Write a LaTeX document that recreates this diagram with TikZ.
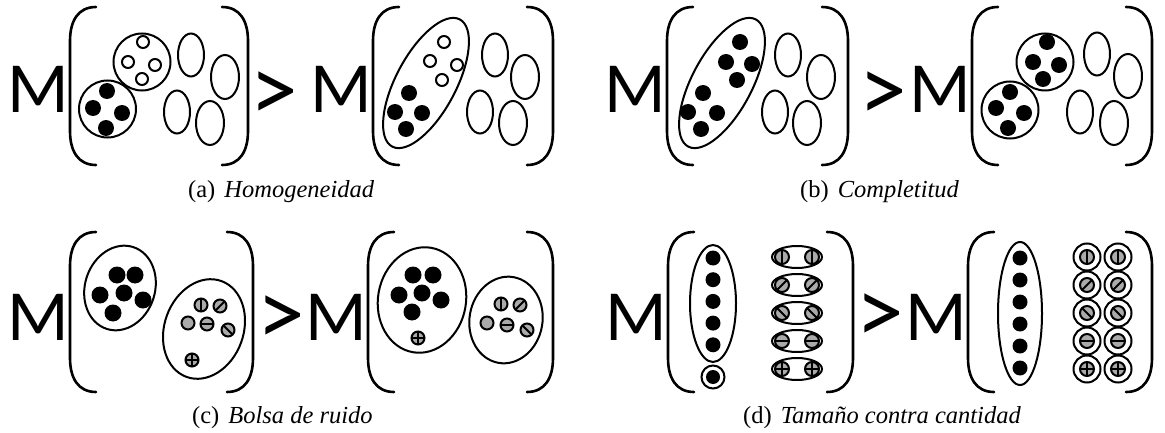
\documentclass[tikz,border=0pt]{standalone}
\usepackage{fontspec}
\newfontfamily\symfont{Carlito}
\newfontfamily\capfont{Liberation Serif}
\definecolor{dotgray}{RGB}{170,170,170}
\tikzset{
  outline/.style={line width=2pt},
  stripe/.style={line width=1.8pt},
  brk/.style={line width=2.6pt, line cap=round},
  bigM/.style={inner sep=0, font=\symfont\fontsize{72}{72}\selectfont},
  gtr/.style={inner sep=0, font=\symfont\fontsize{95}{95}\selectfont},
  captext/.style={inner sep=0, anchor=base west, font=\capfont\fontsize{24.5}{28}\selectfont},
}
% rounded brackets: left x, right x, top y, bottom y (y measured downward)
\newcommand\bracketpair[4]{%
  \draw[brk] (#1+26,-#3) .. controls (#1+8,-#3) and (#1,-#3-14) .. (#1,-#3-34)
     -- (#1,-#4+34) .. controls (#1,-#4+14) and (#1+8,-#4) .. (#1+26,-#4);
  \draw[brk] (#2-26,-#3) .. controls (#2-8,-#3) and (#2,-#3-14) .. (#2,-#3-34)
     -- (#2,-#4+34) .. controls (#2,-#4+14) and (#2-8,-#4) .. (#2-26,-#4);
}
\newcommand\blackdot[3]{\fill (#1,-#2) circle (#3);}
\newcommand\opendot[2]{\draw[outline, fill=white] (#1,-#2) circle (6);}
\newcommand\ringshape[3]{\draw[outline] (#1,-#2) circle (#3);}
\newcommand\plainell[4]{\draw[outline] (#1,-#2) ellipse [x radius=#3, y radius=#4];}
\newcommand\tiltell[5]{\draw[outline, rotate around={#5:(#1,-#2)}] (#1,-#2) ellipse [x radius=#3, y radius=#4];}
% stripe patterns for the grey dots
\newcommand\stripeG[1]{}
\newcommand\stripeV[1]{\draw[stripe] (270:#1) -- (90:#1);}
\newcommand\stripeH[1]{\draw[stripe] (180:#1) -- (0:#1);}
\newcommand\stripeS[1]{\draw[stripe] (225:#1) -- (45:#1);}
\newcommand\stripeB[1]{\draw[stripe] (135:#1) -- (315:#1);}
\newcommand\stripeP[1]{\draw[stripe] (270:#1) -- (90:#1); \draw[stripe] (180:#1) -- (0:#1);}
\newcommand\graydot[4]{%
  \begin{scope}[shift={(#1,-#2)}]
    \fill[dotgray] (0,0) circle (#3);
    \csname stripe#4\endcsname{#3}
    \draw[outline] (0,0) circle (#3);
  \end{scope}}
\begin{document}
\begin{tikzpicture}[x=1pt, y=1pt]
\useasboundingbox (0,0) rectangle (1165,-433);

% ---------- (a) Homogeneidad ----------
\bracketpair{70}{248}{7}{165}
\node[bigM, anchor=base east] (Ma1) at (69,-113) {M};
\ringshape{107.5}{109}{28.5}
\blackdot{107}{91}{8} \blackdot{93}{108}{8} \blackdot{122}{113}{8} \blackdot{106}{128}{8}
\ringshape{142}{62}{28.5}
\opendot{143}{42} \opendot{128}{62} \opendot{155}{65} \opendot{142}{79}
\plainell{191}{55}{13}{21.5} \plainell{225}{77}{14}{22}
\plainell{177}{112}{13}{21.5} \plainell{210}{123}{14}{22}

\node[gtr, anchor=base] (ga) at (274,-122) {>};

\bracketpair{373}{553}{7}{165}
\node[bigM, anchor=base east] (Ma2) at (372,-113) {M};
\tiltell{426}{83}{72}{30}{62}
\opendot{444}{42} \opendot{430}{61} \opendot{457}{65} \opendot{442}{80}
\blackdot{409}{93}{8} \blackdot{395}{112}{8} \blackdot{422}{113}{8} \blackdot{406}{129}{8}
\plainell{495}{55}{13}{21.5} \plainell{525}{77}{14}{22}
\plainell{480}{112}{13}{21.5} \plainell{513}{123}{14}{22}

\node[captext] (capa) at (188,-197) {(a)\hspace{9pt}\itshape Homogeneidad};

% ---------- (b) Completitud ----------
\bracketpair{667}{848}{7}{165}
\node[bigM, anchor=base east] (Mb1) at (666,-113) {M};
\tiltell{722}{83}{72}{30}{62}
\blackdot{740}{42}{8} \blackdot{726}{62}{8} \blackdot{752}{64}{8} \blackdot{737}{80}{8}
\blackdot{703}{93}{8} \blackdot{688}{112}{8} \blackdot{717}{113}{8} \blackdot{701}{129}{8}
\plainell{788}{55}{13}{21.5} \plainell{821}{77}{14}{22}
\plainell{775}{112}{13}{21.5} \plainell{807}{123}{14}{22}

\node[gtr, anchor=base] (gb) at (883,-122) {>};

\bracketpair{972}{1152}{7}{165}
\node[bigM, anchor=base east] (Mb2) at (971,-113) {M};
\ringshape{1010}{110}{28.5}
\blackdot{1010}{92}{8} \blackdot{996}{108}{8} \blackdot{1024}{113}{8} \blackdot{1008}{128}{8}
\ringshape{1045}{62}{28.5}
\blackdot{1047}{42}{8} \blackdot{1033}{62}{8} \blackdot{1059}{65}{8} \blackdot{1043}{79}{8}
\plainell{1097}{54}{13}{21.5} \plainell{1128}{76}{14}{22}
\plainell{1080}{112}{13}{21.5} \plainell{1114}{123}{14}{22}

\node[captext] (capb) at (800,-197) {(b)\hspace{9pt}\itshape Completitud};

% ---------- (c) Bolsa de ruido ----------
\bracketpair{70}{253}{232}{392}
\node[bigM, anchor=base east] (Mc1) at (69,-340) {M};
\tiltell{120}{288}{43}{35}{72}
\blackdot{117}{275}{8.5} \blackdot{135}{275}{8.5} \blackdot{100}{295}{8.5}
\blackdot{124}{293}{8.5} \blackdot{143}{300}{8.5} \blackdot{113}{313}{8.5}
\tiltell{204}{329}{51}{39.5}{70}
\graydot{201}{305}{6.5}{V} \graydot{220}{306}{6.5}{S} \graydot{188}{323}{6.5}{G}
\graydot{207}{324}{6.5}{H} \graydot{228}{330}{6.5}{B} \graydot{192}{360}{6.5}{P}

\node[gtr, anchor=base] (gc) at (281,-345) {>};

\bracketpair{368}{553}{232}{392}
\node[bigM, anchor=base east] (Mc2) at (367,-340) {M};
\tiltell{422}{300}{53}{44}{80}
\blackdot{413}{275}{8.5} \blackdot{433}{275}{8.5} \blackdot{399}{295}{8.5}
\blackdot{422}{293}{8.5} \blackdot{441}{300}{8.5} \blackdot{412}{312}{8.5}
\graydot{418}{338}{6.5}{P}
\tiltell{506}{320}{43.5}{36.5}{80}
\graydot{501}{304}{6.5}{V} \graydot{520}{305}{6.5}{S} \graydot{487}{323}{6.5}{G}
\graydot{507}{325}{6.5}{H} \graydot{527}{330}{6.5}{B}

\node[captext] (capc) at (192,-423) {(c)\hspace{9pt}\itshape Bolsa de ruido};

% ---------- (d) Tamano contra cantidad ----------
\bracketpair{668}{853}{232}{392}
\node[bigM, anchor=base east] (Md1) at (667,-340) {M};
\plainell{713}{303.5}{23}{58.5}
\foreach \yy in {258,279.7,301.4,323.1,344.8} {\blackdot{713}{\yy}{7.5}}
\ringshape{713}{377}{11.5} \blackdot{713}{377}{7}
\foreach \yy/\kind in {257/V,285/S,313/B,341/H,369/P} {
  \plainell{797}{\yy}{25}{11}
  \graydot{782}{\yy}{7}{\kind} \graydot{812}{\yy}{7}{\kind}
}

\node[gtr, anchor=base] (gd) at (880,-343) {>};

\bracketpair{968}{1152}{232}{392}
\node[bigM, anchor=base east] (Md2) at (967,-340) {M};
\plainell{1020}{313.5}{22}{71.5}
\foreach \yy in {258,280,302,324,346,368} {\blackdot{1020}{\yy}{7.5}}
\foreach \yy/\kind in {257/V,285/S,313/B,341/H,369/P} {
  \ringshape{1087}{\yy}{13.5} \graydot{1087}{\yy}{7}{\kind}
  \ringshape{1118}{\yy}{13.5} \graydot{1118}{\yy}{7}{\kind}
}

\node[captext] (capd) at (743,-423) {(d)\hspace{9pt}\itshape Tama\~no contra cantidad};
\end{tikzpicture}
\end{document}
